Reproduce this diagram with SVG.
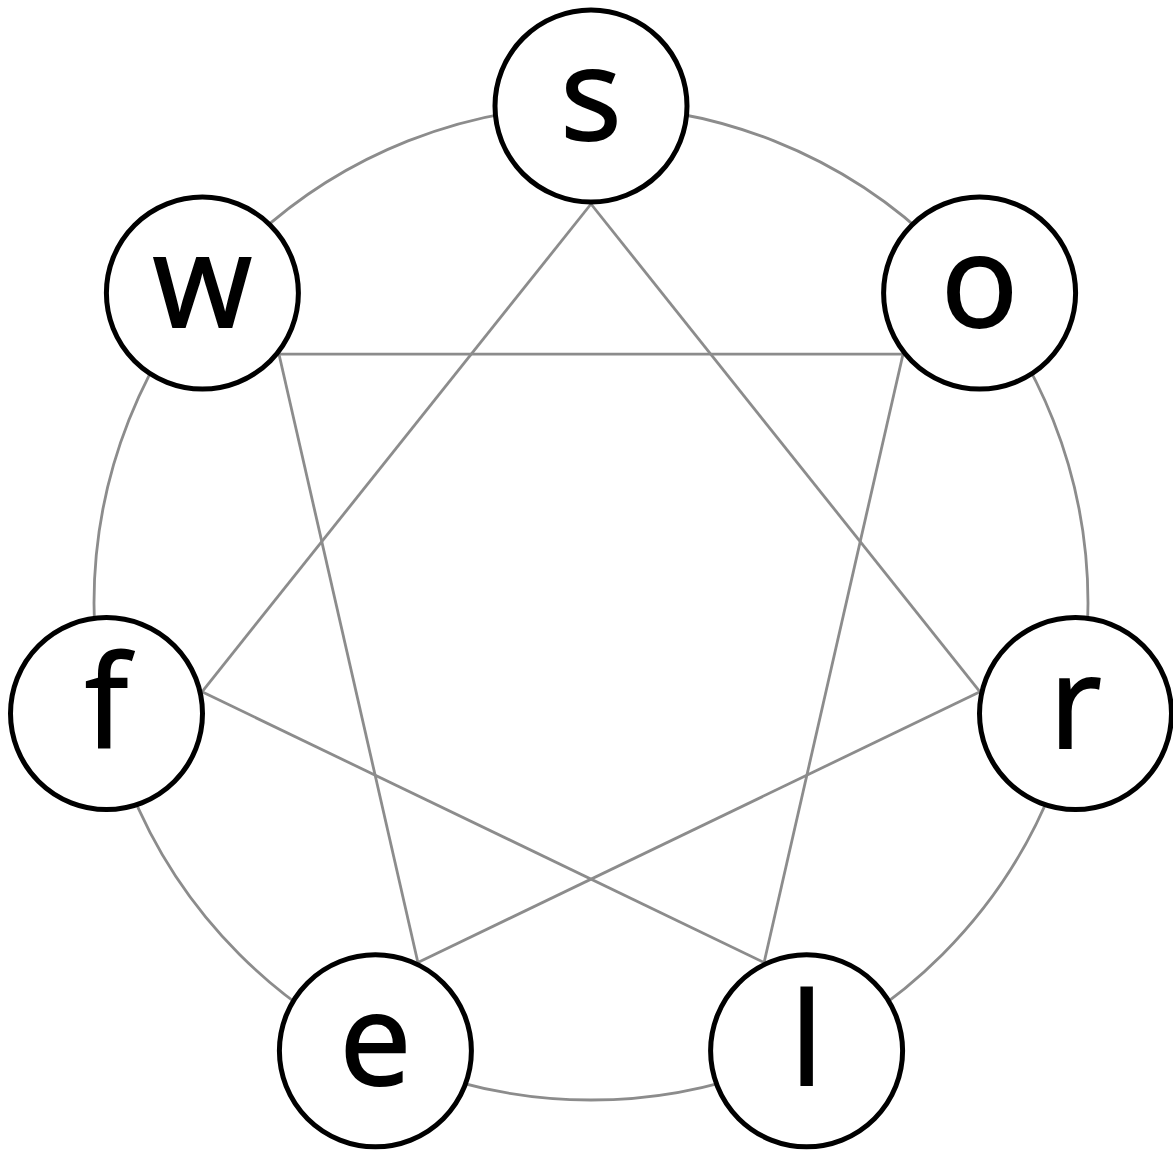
<svg xmlns="http://www.w3.org/2000/svg" width="1173" height="1150" viewBox="0 0 1173 1150">
  <style>
    .edge { stroke: #8c8c8c; stroke-width: 2.8; fill: none; }
    .node circle { fill: #ffffff; stroke: #000000; stroke-width: 5; }
    .node text { font-family: "Open Sans", "Noto Sans", "DejaVu Sans", sans-serif; font-size: 128px; font-weight: 400; fill: #000000; stroke: #000000; stroke-width: 2; text-anchor: middle; }
  </style>
  <rect width="1173" height="1150" fill="#ffffff"/>
  <g id="connectors">
    <circle class="edge" cx="591" cy="603" r="497"/>
    <line class="edge" x1="591" y1="204" x2="980" y2="691.8"/>
    <line class="edge" x1="591" y1="204" x2="202" y2="691.8"/>
    <line class="edge" x1="903" y1="354.2" x2="764.1" y2="962.5"/>
    <line class="edge" x1="903" y1="354.2" x2="279" y2="354.2"/>
    <line class="edge" x1="980" y1="691.8" x2="417.9" y2="962.5"/>
    <line class="edge" x1="764.1" y1="962.5" x2="202" y2="691.8"/>
    <line class="edge" x1="417.9" y1="962.5" x2="279" y2="354.2"/>
  </g>
  <g id="node-s" class="node">
    <circle cx="591" cy="106" r="96"/>
    <text x="591" y="140">s</text>
  </g>
  <g id="node-o" class="node">
    <circle cx="979.6" cy="293.1" r="96"/>
    <text x="979.6" y="327">o</text>
  </g>
  <g id="node-r" class="node">
    <circle cx="1075.5" cy="713.6" r="96"/>
    <text x="1075.5" y="747.5">r</text>
  </g>
  <g id="node-l" class="node">
    <circle cx="806.6" cy="1050.8" r="96"/>
    <text x="806.6" y="1084.5">l</text>
  </g>
  <g id="node-e" class="node">
    <circle cx="375.4" cy="1050.8" r="96"/>
    <text x="375.4" y="1084.5">e</text>
  </g>
  <g id="node-f" class="node">
    <circle cx="106.5" cy="713.6" r="96"/>
    <text x="106.5" y="747.5">f</text>
  </g>
  <g id="node-w" class="node">
    <circle cx="202.4" cy="293.1" r="96"/>
    <text x="202.4" y="327">w</text>
  </g>
</svg>
